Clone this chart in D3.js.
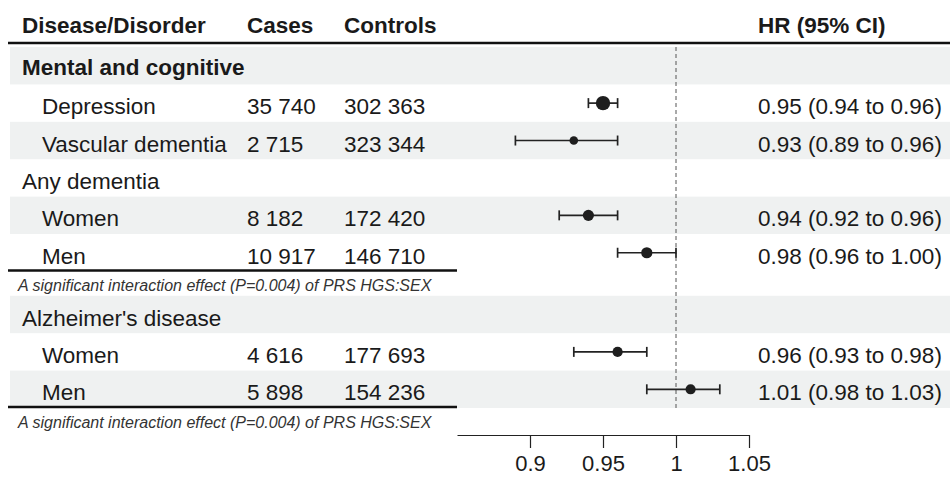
<!DOCTYPE html>
<html lang="en">
<head>
    <meta charset="UTF-8">
    <title>Forest plot: PRS HGS and mental/cognitive outcomes</title>
    <script src="https://d3js.org/d3.v7.min.js"></script>
    <style>
        body { margin: 0; background: #fff; }
        text { font-family: "Liberation Sans", Arial, sans-serif; fill: #1a1a1a; }
    </style>
</head>
<body>
    <script>
        // rows of the table, top to bottom
        const labels = ['Mental and cognitive', 'Depression', 'Vascular dementia', 'Any dementia', 'Women', 'Men',
                        "Alzheimer's disease", 'Women', 'Men'];
        const kinds = ['group', 'item', 'item', 'sub', 'item', 'item', 'sub', 'item', 'item'];
        const cases = ['', '35 740', '2 715', '', '8 182', '10 917', '', '4 616', '5 898'];
        const controls = ['', '302 363', '323 344', '', '172 420', '146 710', '', '177 693', '154 236'];
        const hr = [null, 0.95, 0.93, null, 0.94, 0.98, null, 0.96, 1.01];
        const lower = [null, 0.94, 0.89, null, 0.92, 0.96, null, 0.93, 0.98];
        const upper = [null, 0.96, 0.96, null, 0.96, 1.00, null, 0.98, 1.03];
        const hrText = ['', '0.95 (0.94 to 0.96)', '0.93 (0.89 to 0.96)', '', '0.94 (0.92 to 0.96)',
                        '0.98 (0.96 to 1.00)', '', '0.96 (0.93 to 0.98)', '1.01 (0.98 to 1.03)'];
        // a note follows these rows
        const noteAfter = [5, 8];
        const noteText = 'A significant interaction effect (P=0.004) of PRS HGS:SEX';
        const xTicks = [0.9, 0.95, 1, 1.05];
        const xDomain = [0.85, 1.05];

        const W = 950, H = 477;
        const fs = 22.5;
        const noteUnits = 0.65;

        const svg = d3.select("body").append("svg")
            .attr("width", W)
            .attr("height", H);

        // slot position of each row (notes take a shorter slot)
        const slots = [];
        let s = 0;
        labels.forEach((d, i) => {
            slots.push(s);
            s += 1;
            if (noteAfter.includes(i)) s += noteUnits;
        });
        const last = slots[slots.length - 1] + 1;

        const y = d3.scaleLinear().domain([0, last]).range([47, 408]);
        const x = d3.scaleLinear().domain(xDomain).range([457, 749]);
        const rowTop = i => y(slots[i]);
        const rowMid = i => y(slots[i] + 0.5);

        const rows = labels.map((d, i) => ({
            i, label: d, kind: kinds[i], cases: cases[i], controls: controls[i],
            hr: hr[i], lo: lower[i], hi: upper[i], txt: hrText[i]
        }));

        // alternating grey bands
        svg.selectAll("rect.band")
            .data(rows.filter(d => d.i % 2 === 0))
            .enter().append("rect")
            .attr("class", "band")
            .attr("x", 10)
            .attr("y", d => rowTop(d.i))
            .attr("width", W - 10)
            .attr("height", d => y(slots[d.i] + 1) - rowTop(d.i))
            .style("fill", "#eff1f1");

        // header
        const header = [['Disease/Disorder', 22], ['Cases', 247], ['Controls', 344], ['HR (95% CI)', 758]];
        svg.selectAll("text.head")
            .data(header)
            .enter().append("text")
            .attr("class", "head")
            .attr("x", d => d[1])
            .attr("y", 24.5 + 0.358 * fs)
            .style("font-size", fs + "px")
            .style("font-weight", "bold")
            .text(d => d[0]);

        svg.append("line")
            .attr("x1", 8).attr("x2", W)
            .attr("y1", 43).attr("y2", 43)
            .style("stroke", "#111")
            .style("stroke-width", 2.5);

        // reference line at HR = 1
        svg.append("line")
            .attr("x1", x(1)).attr("x2", x(1))
            .attr("y1", 47).attr("y2", 408)
            .style("stroke", "#555")
            .style("stroke-width", 1)
            .style("stroke-dasharray", "4,3");

        // row labels and counts
        const textY = d => rowMid(d.i) + 0.358 * fs + 3;
        svg.selectAll("text.label")
            .data(rows)
            .enter().append("text")
            .attr("class", "label")
            .attr("x", d => d.kind === 'item' ? 42 : 22)
            .attr("y", d => d.kind === 'group' ? textY(d) - 2 : textY(d))
            .style("font-size", fs + "px")
            .style("font-weight", d => d.kind === 'group' ? "bold" : "normal")
            .text(d => d.label);

        svg.selectAll("text.cases")
            .data(rows)
            .enter().append("text")
            .attr("x", 247).attr("y", textY)
            .style("font-size", fs + "px")
            .text(d => d.cases);

        svg.selectAll("text.controls")
            .data(rows)
            .enter().append("text")
            .attr("x", 344).attr("y", textY)
            .style("font-size", fs + "px")
            .text(d => d.controls);

        svg.selectAll("text.hr")
            .data(rows)
            .enter().append("text")
            .attr("x", 758).attr("y", textY)
            .style("font-size", fs + "px")
            .text(d => d.txt);

        // notes with rule above
        noteAfter.forEach(i => {
            const ly = y(slots[i] + 1) - 1;
            svg.append("line")
                .attr("x1", 8).attr("x2", 457)
                .attr("y1", ly).attr("y2", ly)
                .style("stroke", "#111")
                .style("stroke-width", 2.5);
            svg.append("text")
                .attr("x", 18)
                .attr("y", ly + 15 + 0.358 * 16)
                .style("font-size", "16px")
                .style("font-style", "italic")
                .style("fill", "#333")
                .text(noteText);
        });

        // estimates with confidence intervals
        const est = rows.filter(d => d.hr !== null);
        const r = d3.scaleLog().domain([1 / 0.07, 1 / 0.02]).range([4.3, 7.2]);

        const g = svg.append("g").attr("class", "ci");
        g.selectAll("line.ci")
            .data(est)
            .enter().append("line")
            .attr("x1", d => x(d.lo)).attr("x2", d => x(d.hi))
            .attr("y1", d => rowMid(d.i)).attr("y2", d => rowMid(d.i))
            .style("stroke", "#222")
            .style("stroke-width", 1.7);

        ['lo', 'hi'].forEach(k => {
            g.selectAll("line.cap-" + k)
                .data(est)
                .enter().append("line")
                .attr("x1", d => x(d[k])).attr("x2", d => x(d[k]))
                .attr("y1", d => rowMid(d.i) - 5).attr("y2", d => rowMid(d.i) + 5)
                .style("stroke", "#222")
                .style("stroke-width", 1.7);
        });

        g.selectAll("circle")
            .data(est)
            .enter().append("circle")
            .attr("cx", d => x(d.hr))
            .attr("cy", d => rowMid(d.i))
            .attr("r", d => r(1 / (d.hi - d.lo)))
            .style("fill", "#1e1e1e");

        // x axis
        const axis = svg.append("g")
            .attr("transform", "translate(0,435)")
            .call(d3.axisBottom(x)
                .tickValues(xTicks)
                .tickFormat(d => String(d))
                .tickSize(13)
                .tickSizeOuter(0)
                .tickPadding(7));
        axis.select(".domain").style("stroke", "#222").style("stroke-width", 1.2);
        axis.selectAll(".tick line").style("stroke", "#222").style("stroke-width", 1.2);
        axis.selectAll(".tick text")
            .style("font-size", "22px")
            .style("font-family", '"Liberation Sans", Arial, sans-serif')
            .style("fill", "#1a1a1a");
    </script>
</body>
</html>
